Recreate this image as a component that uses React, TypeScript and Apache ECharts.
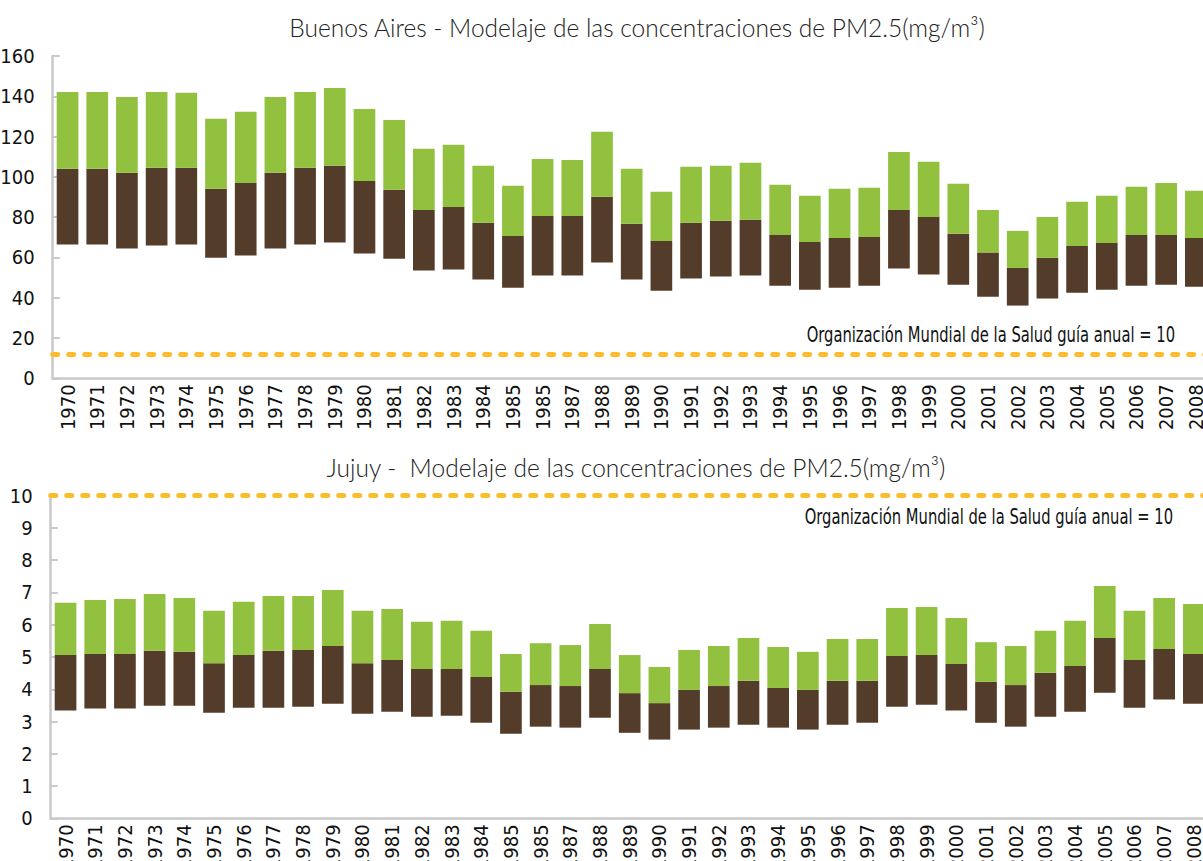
import React, { useEffect, useRef } from "react";
import * as echarts from "echarts";

const years = [
  "1970","1971","1972","1973","1974","1975","1976","1977","1978","1979","1980","1981",
  "1982","1983","1984","1985","1985","1987","1988","1989","1990","1991","1992","1993","1994","1995",
  "1996","1997","1998","1999","2000","2001","2002","2003","2004","2005","2006","2007","2008",
];

const baLow = [66.4,66.4,64.4,65.9,66.4,59.9,60.9,64.4,66.4,67.4,61.9,59.4,
  53.5,54.0,49.0,45.0,51.0,51.0,57.5,49.0,43.5,49.5,50.5,51.0,46.0,44.0,
  45.0,46.0,54.5,51.5,46.5,40.5,36.1,39.6,42.5,44.0,46.0,46.5,45.5];
const baMid = [104.0,104.0,102.0,104.5,104.5,94.1,97.0,102.0,104.5,105.5,98.0,93.6,
  83.6,85.1,77.2,70.7,80.6,80.6,90.1,76.7,68.2,77.2,78.2,78.7,71.2,67.7,
  69.7,70.2,83.6,80.1,71.7,62.4,54.8,59.8,65.7,67.2,71.2,71.2,69.7];
const baHigh = [142.1,142.1,139.6,142.1,141.8,128.8,132.3,139.6,142.1,144.1,133.7,128.2,
  113.9,115.9,105.5,95.6,108.9,108.4,122.4,104.0,92.6,105.0,105.5,107.0,96.1,90.6,
  94.1,94.6,112.4,107.5,96.6,83.6,73.2,80.1,87.6,90.6,95.1,97.0,93.1];

const juLow = [3.34,3.40,3.40,3.49,3.49,3.27,3.43,3.43,3.46,3.55,3.24,3.30,
  3.15,3.18,2.96,2.62,2.84,2.81,3.12,2.65,2.44,2.75,2.81,2.90,2.81,2.75,
  2.90,2.96,3.46,3.52,3.34,2.96,2.84,3.15,3.30,3.89,3.43,3.68,3.55];
const juMid = [5.06,5.09,5.09,5.19,5.16,4.81,5.06,5.19,5.22,5.34,4.81,4.91,
  4.63,4.63,4.38,3.92,4.13,4.10,4.63,3.88,3.57,3.98,4.10,4.26,4.04,3.98,
  4.26,4.26,5.03,5.06,4.78,4.23,4.13,4.51,4.72,5.59,4.91,5.25,5.09];
const juHigh = [6.68,6.77,6.80,6.95,6.83,6.43,6.71,6.89,6.89,7.08,6.43,6.49,
  6.09,6.12,5.81,5.09,5.43,5.37,6.02,5.06,4.69,5.22,5.34,5.59,5.31,5.16,
  5.56,5.56,6.52,6.55,6.21,5.46,5.34,5.81,6.12,7.20,6.43,6.83,6.64];

const baGuide = 12;
const juGuide = 10;

const titleBA = "Buenos Aires - Modelaje de las concentraciones de PM2.5(mg/m³)";
const titleJU = "Jujuy -  Modelaje de las concentraciones de PM2.5(mg/m³)";
const guideLabel = "Organización Mundial de la Salud guía anual = 10";

const GREEN = "#92C03F";
const BROWN = "#543C2A";
const GOLD = "#FDBB2D";
const AXIS = "#C9C9C9";
const NARROW = "'Liberation Sans Narrow', 'DejaVu Sans Condensed', 'Roboto Condensed', sans-serif";
const TITLE_FONT = "Lato, 'Open Sans', sans-serif";

function diff(a: number[], b: number[]) {
  return a.map((v, i) => Math.round((v - b[i]) * 1000) / 1000);
}

function makeSeries(idx: number, low: number[], mid: number[], high: number[], guide: number) {
  const stack = "s" + idx;
  return [
    {
      type: "bar",
      xAxisIndex: idx,
      yAxisIndex: idx,
      stack,
      barWidth: "73%",
      silent: true,
      itemStyle: { color: "transparent" },
      data: low,
      markLine: {
        silent: true,
        symbol: "none",
        label: { show: false },
        lineStyle: { color: GOLD, width: 5, type: [5, 11], cap: "round" },
        data: [{ yAxis: guide }],
      },
    },
    {
      type: "bar",
      xAxisIndex: idx,
      yAxisIndex: idx,
      stack,
      barWidth: "73%",
      itemStyle: { color: BROWN },
      data: diff(mid, low),
    },
    {
      type: "bar",
      xAxisIndex: idx,
      yAxisIndex: idx,
      stack,
      barWidth: "73%",
      itemStyle: { color: GREEN },
      data: diff(high, mid),
    },
  ];
}

function xAxisFor(idx: number) {
  return {
    type: "category",
    gridIndex: idx,
    data: years,
    axisLine: { lineStyle: { color: AXIS, width: 2.5 } },
    axisTick: { inside: true, length: 7, lineStyle: { color: AXIS, width: 2 }, alignWithLabel: false },
    axisLabel: {
      rotate: 90,
      interval: 0,
      margin: 6,
      color: "#111",
      fontSize: 20,
      fontFamily: NARROW,
    },
  };
}

function yAxisFor(idx: number, max: number, interval: number) {
  return {
    type: "value",
    gridIndex: idx,
    min: 0,
    max,
    interval,
    splitLine: { show: false },
    axisLine: { show: true, lineStyle: { color: AXIS, width: 2.5 } },
    axisTick: { show: true, inside: true, length: 7, lineStyle: { color: AXIS, width: 2 } },
    axisLabel: {
      margin: 18,
      color: "#111",
      fontSize: 20,
      fontFamily: NARROW,
    },
  };
}

export default function App() {
  const ref = useRef<HTMLDivElement>(null);
  useEffect(() => {
    if (!ref.current) return;
    const chart = echarts.init(ref.current, null, { renderer: "svg" });
    chart.setOption({
      animation: false,
      backgroundColor: "#fff",
      grid: [
        { left: 52.7, top: 56, width: 1158, height: 322.3, outerBoundsMode: "none", containLabel: false },
        { left: 50.7, top: 495.7, width: 1158, height: 322.6, outerBoundsMode: "none", containLabel: false },
      ],
      xAxis: [xAxisFor(0), xAxisFor(1)],
      yAxis: [yAxisFor(0, 160, 20), yAxisFor(1, 10, 1)],
      series: [
        ...makeSeries(0, baLow, baMid, baHigh, baGuide),
        ...makeSeries(1, juLow, juMid, juHigh, juGuide),
      ],
      graphic: [
        {
          type: "text",
          x: 637,
          y: 27,
          style: {
            text: titleBA,
            fill: "#222",
            font: `300 24.5px ${TITLE_FONT}`,
            textAlign: "center",
            textVerticalAlign: "middle",
          },
        },
        {
          type: "text",
          x: 636,
          y: 467,
          style: {
            text: titleJU,
            fill: "#222",
            font: `300 24.5px ${TITLE_FONT}`,
            textAlign: "center",
            textVerticalAlign: "middle",
          },
        },
        {
          type: "text",
          x: 1175,
          y: 335,
          scaleX: 0.78,
          style: {
            text: guideLabel,
            fill: "#111",
            font: `21px ${NARROW}`,
            textAlign: "right",
            textVerticalAlign: "middle",
          },
        },
        {
          type: "text",
          x: 1173,
          y: 517,
          scaleX: 0.78,
          style: {
            text: guideLabel,
            fill: "#111",
            font: `21px ${NARROW}`,
            textAlign: "right",
            textVerticalAlign: "middle",
          },
        },
      ],
    });
    return () => chart.dispose();
  }, []);
  return (
    <div
      ref={ref}
      style={{ position: "fixed", left: 0, top: 0, width: 1203, height: 861, background: "#fff" }}
    />
  );
}
